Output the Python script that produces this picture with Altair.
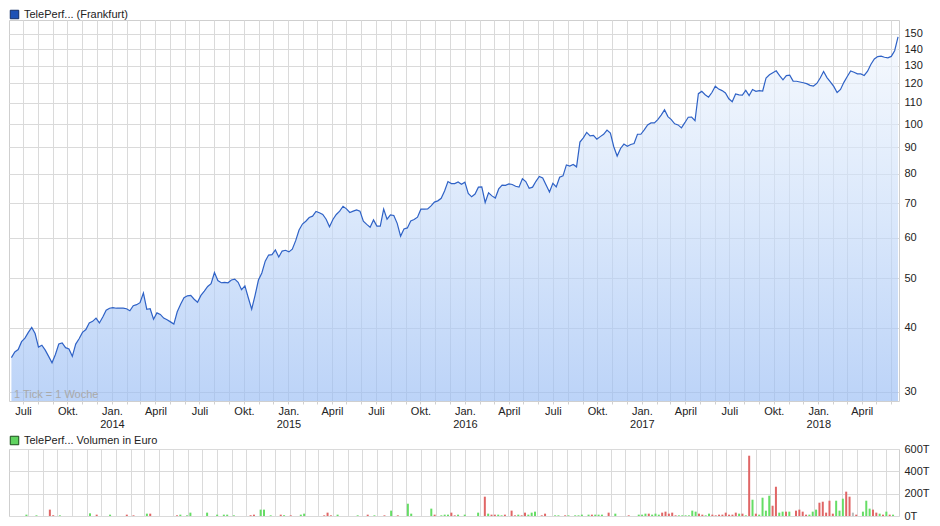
import altair as alt
import pandas as pd

# ---------------- data ----------------
START = "2013-06-07"          # first weekly quote
price = [
    35.0, 35.9, 36.3, 37.6, 38.2, 39.2, 40.1, 39.0, 36.7, 37.0,
    36.2, 35.2, 34.2, 35.5, 37.2, 37.4, 36.6, 36.4, 35.2, 37.2,
    38.1, 39.2, 39.7, 40.9, 41.2, 41.8, 40.9, 42.0, 43.3, 43.7,
    43.8, 43.7, 43.7, 43.7, 43.6, 43.2, 44.2, 44.4, 44.8, 46.8,
    43.5, 43.6, 41.6, 42.8, 42.5, 41.8, 41.5, 41.1, 40.7, 43.0,
    44.5, 45.8, 46.2, 46.3, 45.5, 44.9, 46.3, 47.2, 48.2, 48.8,
    51.3, 49.5, 49.0, 49.1, 49.0, 49.6, 49.8, 49.1, 47.5, 48.3,
    45.8, 43.5, 46.3, 49.6, 51.2, 54.0, 55.5, 55.6, 56.8, 55.0,
    56.5, 56.7, 56.3, 57.0, 59.2, 62.1, 63.8, 64.6, 65.7, 66.1,
    67.5, 67.1, 66.6, 65.2, 63.0, 65.1, 66.6, 67.6, 69.1, 68.3,
    67.2, 67.6, 68.0, 67.6, 64.6, 63.7, 62.9, 65.0, 63.2, 63.2,
    68.2, 65.2, 66.5, 66.3, 64.0, 60.4, 62.4, 62.7, 64.7, 65.1,
    65.8, 68.2, 68.2, 68.3, 69.2, 70.4, 70.8, 71.6, 74.0, 77.2,
    76.5, 76.5, 77.1, 76.3, 77.0, 73.2, 72.1, 73.0, 75.3, 75.4,
    70.3, 73.4, 72.4, 71.7, 74.7, 76.0, 75.9, 76.4, 76.2, 75.6,
    75.3, 78.2, 77.2, 74.9, 75.3, 77.3, 79.0, 78.5, 76.0, 73.7,
    76.6, 75.4, 78.7, 79.2, 83.2, 82.8, 83.4, 82.5, 92.2, 94.0,
    96.3, 94.8, 95.0, 93.4, 94.5, 95.5, 97.3, 96.0, 90.3, 86.6,
    89.6, 91.4, 90.5, 91.2, 91.6, 95.5, 95.5, 97.4, 99.6, 100.5,
    100.5, 102.0, 104.1, 106.6, 103.4, 102.0, 100.1, 99.6, 98.3, 100.6,
    103.1, 103.2, 101.5, 114.6, 115.8, 114.1, 112.8, 115.2, 118.5, 117.0,
    116.2, 115.0, 112.0, 110.5, 114.5, 114.0, 113.9, 116.3, 113.6, 116.8,
    115.8, 116.2, 116.0, 123.0, 124.8, 125.9, 127.0, 124.3, 122.0, 124.3,
    124.6, 121.3, 121.2, 120.8, 120.4, 119.9, 119.0, 118.6, 120.0, 123.0,
    126.6, 123.2, 120.9, 118.4, 115.2, 116.8, 120.6, 123.8, 126.9, 126.2,
    125.3, 125.3, 124.4, 126.8, 130.8, 134.0, 135.4, 135.7, 135.0, 134.6,
    135.5, 139.0, 148.0,
]

# volume bars: week number (0 = first quote), volume in thousand euro, direction
vol_week = [
    3, 6, 10, 11, 13, 22, 24, 28, 33, 35, 39, 40, 48, 49, 51, 52, 57, 60, 62, 63,
    65, 70, 71, 73, 74, 76, 79, 80, 82, 85, 86, 92, 93, 94, 96, 102, 105, 107, 110, 112,
    114, 117, 118, 124, 125, 127, 128, 129, 130, 131, 132, 134, 138, 140, 141, 142, 143, 144, 145, 146,
    148, 149, 150, 151, 152, 153, 154, 155, 157, 158, 161, 162, 164, 165, 167, 168, 169, 171, 172, 173,
    174, 175, 177, 179, 183, 186, 187, 188, 189, 190, 191, 192, 193, 194, 195, 196, 197, 198, 199, 200,
    201, 202, 203, 204, 205, 206, 207, 208, 209, 210, 211, 212, 213, 214, 215, 216, 217, 218, 219, 220,
    221, 222, 223, 224, 225, 226, 227, 228, 229, 230, 231, 233, 234, 235, 236, 237, 238, 239, 240, 241,
    242, 243, 244, 245, 246, 247, 248, 249, 250, 251, 253, 254, 255, 256, 257, 258, 259, 260, 261, 262,
]
vol_value = [
    12, 6, 57, 7, 6, 24, 12, 12, 12, 6, 21, 21, 6, 12, 6, 30, 30, 12, 12, 12,
    6, 7, 12, 57, 57, 6, 12, 7, 6, 12, 21, 6, 30, 6, 12, 6, 12, 6, 6, 48,
    6, 110, 21, 66, 12, 6, 12, 12, 30, 6, 12, 12, 30, 173, 21, 12, 12, 12, 6, 12,
    48, 6, 12, 6, 30, 12, 30, 39, 6, 21, 6, 6, 6, 6, 6, 6, 12, 12, 12, 12,
    12, 12, 30, 21, 6, 12, 12, 21, 21, 12, 21, 12, 30, 39, 21, 30, 6, 6, 6, 6,
    6, 48, 39, 21, 12, 6, 21, 12, 6, 12, 12, 30, 12, 12, 30, 21, 21, 6, 540, 146,
    21, 12, 164, 48, 182, 92, 262, 30, 39, 39, 39, 48, 57, 39, 12, 12, 39, 57, 119, 128,
    30, 137, 21, 137, 48, 155, 218, 173, 30, 12, 39, 137, 66, 57, 30, 21, 12, 39, 12, 12,
]
vol_dir = [
    "up", "up", "down", "down", "up", "up", "down", "up", "down", "down", "up", "down", "down", "up", "up", "up", "up", "up", "up", "up",
    "up", "down", "down", "up", "up", "up", "down", "up", "down", "up", "up", "down", "down", "down", "up", "up", "down", "up", "down", "up",
    "down", "up", "up", "up", "down", "up", "up", "up", "down", "down", "up", "up", "up", "down", "up", "down", "down", "up", "up", "down",
    "down", "down", "up", "down", "down", "up", "up", "up", "down", "down", "up", "up", "down", "up", "up", "up", "up", "up", "down", "up",
    "up", "up", "down", "up", "down", "up", "up", "up", "down", "up", "up", "up", "down", "down", "down", "down", "down", "up", "up", "up",
    "up", "up", "up", "down", "down", "up", "up", "down", "down", "down", "down", "down", "down", "down", "down", "up", "down", "up", "down", "up",
    "down", "up", "up", "up", "up", "down", "down", "up", "up", "down", "up", "down", "down", "down", "down", "up", "up", "up", "down", "down",
    "down", "down", "down", "up", "up", "up", "down", "down", "flat", "down", "up", "up", "up", "down", "down", "up", "down", "up", "down", "up",
]

y_ticks = [30, 40, 50, 60, 70, 80, 90, 100, 110, 120, 130, 140, 150]
vol_ticks = [0, 200, 400, 600]
price_name = "TelePerf... (Frankfurt)"
vol_name = "TelePerf... Volumen in Euro"
note = "1 Tick = 1 Woche"

# ---------------- tables ----------------
dates = pd.date_range(START, periods=len(price), freq="7D")
date_str = [d.strftime("%Y-%m-%d") for d in dates]
df_price = pd.DataFrame({"date": date_str, "price": price, "name": price_name})
df_vol = pd.DataFrame({
    "date": [date_str[w] for w in vol_week],
    "vol": vol_value,
    "dir": vol_dir,
})
df_vol_leg = pd.DataFrame({"date": [date_str[0]], "vol": [0], "name": [vol_name]})
df_note = pd.DataFrame({"t": [note]})

months = pd.date_range("2013-07-01", "2018-06-01", freq="MS")
month_ticks = [alt.DateTime(year=int(m.year), month=int(m.month), date=1, utc=True) for m in months]

W = 890
H_TOP = 381
H_VOL = 67
FONT = "Liberation Sans"
GRID = "#dadada"

x_scale = alt.Scale(
    type="utc",
    domain=[alt.DateTime(year=2013, month=6, date=2, utc=True),
            alt.DateTime(year=2018, month=6, date=17, utc=True)],
)

label_expr = (
    "utcmonth(datum.value)==0 ? ['Jan.', utcFormat(datum.value, '%Y')] : "
    "utcmonth(datum.value)==3 ? 'April' : utcmonth(datum.value)==6 ? 'Juli' : "
    "utcmonth(datum.value)==9 ? 'Okt.' : ''"
)

x_top = alt.X(
    "date:T", scale=x_scale, title=None,
    axis=alt.Axis(values=month_ticks, labelExpr=label_expr, grid=True, gridColor=GRID,
                  domain=False, tickSize=3, tickColor="#d0d0d0", labelPadding=1,
                  labelFontSize=11, labelColor="#222222", labelOverlap=False,
                  labelFlush=False, labelLineHeight=13, labelFont=FONT),
)

y_scale = alt.Scale(type="log", domain=[28.8, 159.6], nice=False)
y_top = alt.Y(
    "price:Q", scale=y_scale, title=None,
    axis=alt.Axis(orient="right", values=y_ticks, grid=True, gridColor=GRID,
                  domain=False, ticks=False, labelPadding=5, labelFontSize=11,
                  labelColor="#222222", labelFont=FONT, format="d"),
)

gradient = alt.Gradient(
    gradient="linear", x1=0, x2=0, y1=0, y2=1,
    stops=[alt.GradientStop(color="#f1f6fd", offset=0),
           alt.GradientStop(color="#c6dbf9", offset=0.5),
           alt.GradientStop(color="#98bcf4", offset=1)],
)

area = alt.Chart(df_price).mark_area(fill=gradient, fillOpacity=0.65, line=False).encode(
    x=x_top, y=y_top, y2=alt.Y2(datum=28.8),
)
line = alt.Chart(df_price).mark_line(color="#2f62c6", strokeWidth=1.2).encode(
    x=x_top, y=y_top,
)
top_legend = alt.Chart(df_price).mark_square(opacity=0).encode(
    x=x_top, y=y_top,
    color=alt.Color("name:N", scale=alt.Scale(range=["#1f51b5"]),
                    legend=alt.Legend(orient="none", legendX=0, legendY=-11, title=None,
                                      symbolType="square", symbolSize=72, symbolOpacity=1,
                                      symbolStrokeColor="#132c66", symbolStrokeWidth=1,
                                      labelFontSize=11, labelFont=FONT, labelColor="#222222",
                                      padding=0, labelOffset=4)),
)
note_txt = alt.Chart(df_note).mark_text(
    align="left", baseline="bottom", fontSize=11, font=FONT, color="#a9a9a9",
).encode(x=alt.value(5), y=alt.value(H_TOP - 1), text="t:N")

top = alt.layer(area, line, top_legend, note_txt).properties(width=W, height=H_TOP)

# ---------------- volume panel ----------------
x_vol = alt.X(
    "date:T", scale=x_scale, title=None,
    axis=alt.Axis(values=month_ticks, labels=False, ticks=False, domain=False,
                  grid=True, gridColor=GRID),
)
y_vol = alt.Y(
    "vol:Q", scale=alt.Scale(domain=[0, 600], nice=False), title=None,
    axis=alt.Axis(orient="right", values=vol_ticks, grid=True, gridColor=GRID,
                  domain=False, ticks=False, labelPadding=5, labelFontSize=11,
                  labelColor="#222222", labelFont=FONT, labelExpr="datum.value + 'T'"),
)
bars = alt.Chart(df_vol).mark_bar(width=2).encode(
    x=x_vol, y=y_vol,
    fill=alt.Fill("dir:N", scale=alt.Scale(domain=["up", "down", "flat"],
                                           range=["#66dd66", "#e06666", "#bbbbbb"]),
                  legend=None),
)
vol_legend = alt.Chart(df_vol_leg).mark_square(opacity=0).encode(
    x=x_vol, y=y_vol,
    color=alt.Color("name:N", scale=alt.Scale(range=["#5fd35f"]),
                    legend=alt.Legend(orient="none", legendX=0, legendY=-14, title=None,
                                      symbolType="square", symbolSize=72, symbolOpacity=1,
                                      symbolStrokeColor="#1b4d1b", symbolStrokeWidth=1,
                                      labelFontSize=11, labelFont=FONT, labelColor="#222222",
                                      padding=0, labelOffset=4)),
)
vol = alt.layer(bars, vol_legend).properties(width=W, height=H_VOL)

chart = alt.vconcat(top, vol, spacing=4).resolve_scale(
    color="independent", fill="independent"
).resolve_legend(color="independent").properties(
    padding=0,
).configure(font=FONT).configure_view(stroke="#cfcfcf", strokeWidth=1)

chart.save("out.html", embed_options={"renderer": "svg", "actions": False})
